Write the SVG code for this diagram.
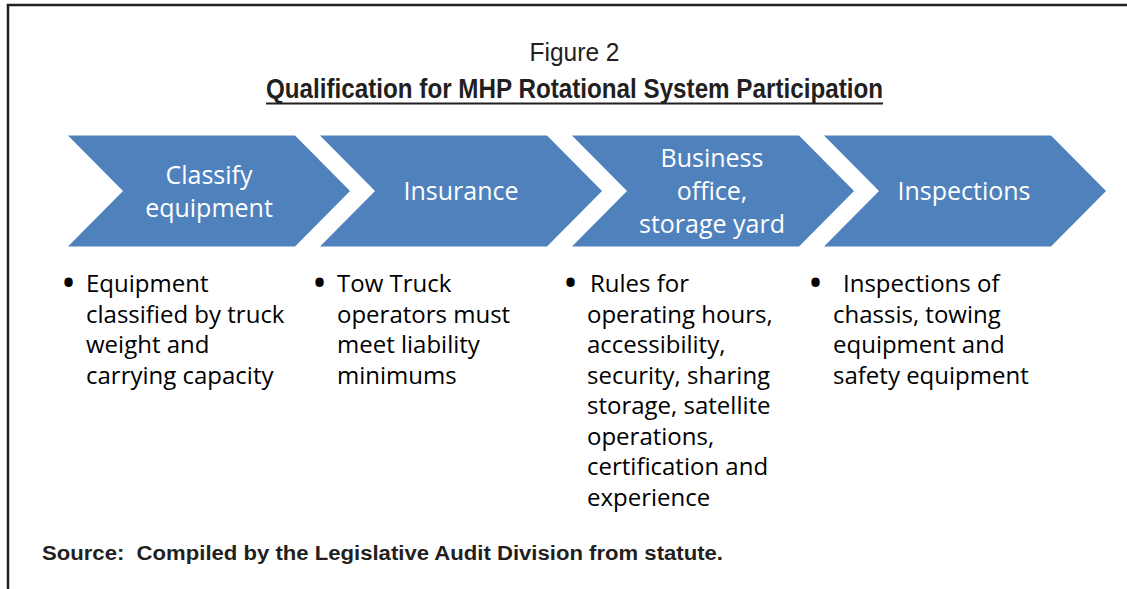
<svg xmlns="http://www.w3.org/2000/svg" width="1127" height="589" viewBox="0 0 1127 589">
  <style>
    .frame { stroke: #231f20; stroke-width: 2.5; fill: none; }
    .chev { fill: #4f81bd; }
    .ctext { font-family: "Open Sans", Lato, sans-serif; font-size: 25px; fill: #ffffff; text-anchor: middle; }
    .btext { font-family: "Open Sans", Lato, sans-serif; font-size: 24px; fill: #000000; }
    .bullet { font-family: "Open Sans", Lato, sans-serif; font-size: 40px; fill: #000000; }
    .title { font-family: "Liberation Sans", Arial, sans-serif; fill: #231f20; }
  </style>
  <rect width="1127" height="589" fill="#ffffff"/>
  <g id="frame">
    <path class="frame" d="M8,589 L8,5 L1127,5"/>
  </g>
  <g id="title">
    <text class="title" x="574.5" y="61" font-size="26" text-anchor="middle" textLength="90" lengthAdjust="spacingAndGlyphs">Figure 2</text>
    <text class="title" x="266" y="98" font-size="27" font-weight="bold" textLength="617" lengthAdjust="spacingAndGlyphs">Qualification for MHP Rotational System Participation</text>
    <line x1="266" y1="103.5" x2="883" y2="103.5" stroke="#231f20" stroke-width="2"/>
  </g>
  <g id="step1">
    <path class="chev" d="M68,135.5 L295,135.5 L350,191 L295,246.5 L68,246.5 L123,191 Z"/>
    <text class="ctext" x="209" y="184">Classify</text>
    <text class="ctext" x="209" y="217">equipment</text>
  </g>
  <g id="step2">
    <path class="chev" d="M320,135.5 L547,135.5 L602,191 L547,246.5 L320,246.5 L375,191 Z"/>
    <text class="ctext" x="461" y="200">Insurance</text>
  </g>
  <g id="step3">
    <path class="chev" d="M572,135.5 L799,135.5 L854,191 L799,246.5 L572,246.5 L627,191 Z"/>
    <text class="ctext" x="712" y="167">Business</text>
    <text class="ctext" x="712" y="200">office,</text>
    <text class="ctext" x="712" y="233">storage yard</text>
  </g>
  <g id="step4">
    <path class="chev" d="M824,135.5 L1051,135.5 L1106,191 L1051,246.5 L824,246.5 L879,191 Z"/>
    <text class="ctext" x="964" y="200">Inspections</text>
  </g>
  <g id="connectors"></g>
  <g id="detail1">
    <text class="bullet" x="61" y="297">•</text>
    <text class="btext" x="86" y="292">Equipment</text>
    <text class="btext" x="86" y="322.5">classified by truck</text>
    <text class="btext" x="86" y="353">weight and</text>
    <text class="btext" x="86" y="383.5">carrying capacity</text>
  </g>
  <g id="detail2">
    <text class="bullet" x="312" y="297">•</text>
    <text class="btext" x="337" y="292">Tow Truck</text>
    <text class="btext" x="337" y="322.5">operators must</text>
    <text class="btext" x="337" y="353">meet liability</text>
    <text class="btext" x="337" y="383.5">minimums</text>
  </g>
  <g id="detail3">
    <text class="bullet" x="563" y="297">•</text>
    <text class="btext" x="590" y="292">Rules for</text>
    <text class="btext" x="587" y="322.5">operating hours,</text>
    <text class="btext" x="587" y="353">accessibility,</text>
    <text class="btext" x="587" y="383.5">security, sharing</text>
    <text class="btext" x="587" y="414">storage, satellite</text>
    <text class="btext" x="587" y="444.5">operations,</text>
    <text class="btext" x="587" y="475">certification and</text>
    <text class="btext" x="587" y="505.5">experience</text>
  </g>
  <g id="detail4">
    <text class="bullet" x="808" y="297">•</text>
    <text class="btext" x="843" y="292">Inspections of</text>
    <text class="btext" x="833" y="322.5">chassis, towing</text>
    <text class="btext" x="833" y="353">equipment and</text>
    <text class="btext" x="833" y="383.5">safety equipment</text>
  </g>
  <g id="source">
    <text class="title" x="42" y="560" font-size="20" font-weight="bold" textLength="681" lengthAdjust="spacingAndGlyphs" xml:space="preserve">Source:  Compiled by the Legislative Audit Division from statute.</text>
  </g>
</svg>
